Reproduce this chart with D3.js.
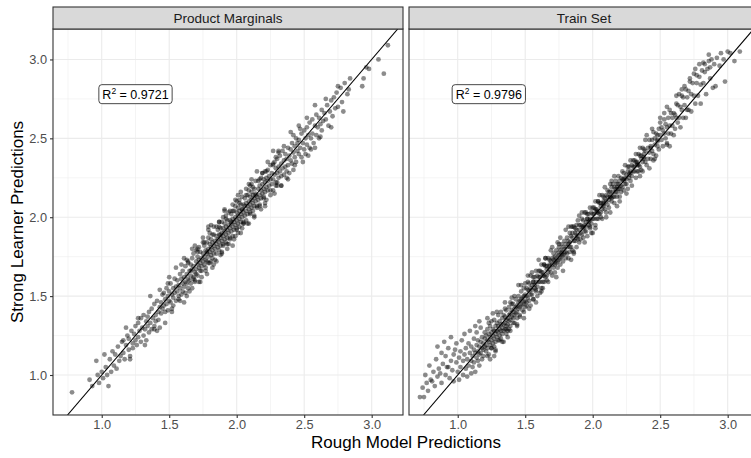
<!DOCTYPE html>
<html><head><meta charset="utf-8">
<script src="https://cdn.jsdelivr.net/npm/d3@7"></script>
<style>body{margin:0;background:#fff}svg{display:block}</style>
</head><body><svg id="chart" width="751" height="458"></svg>
<script>
const panelNames = ["Product Marginals", "Train Set"];
const r2Values = ["0.9721", "0.9796"];
const labelX = [1.25, 1.23];
const labelY = [2.78, 2.78];
const xTicks = [1.0, 1.5, 2.0, 2.5, 3.0];
const yTicks = [1.0, 1.5, 2.0, 2.5, 3.0];
const xMinor = [0.75, 1.25, 1.75, 2.25, 2.75];
const yMinor = [0.75, 1.25, 1.75, 2.25, 2.75];
const xDomain = [0.639, 3.232];
const yDomain = [0.7465, 3.193];
const xTitle = "Rough Model Predictions";
const yTitle = "Strong Learner Predictions";

const productMarginals = [
[0.78,0.89],[0.91,0.97],[0.93,0.93],
[0.96,1.09],[0.97,1.00],[0.98,0.95],[1.00,1.02],[1.01,0.98],[1.02,1.13],[1.03,1.05],[1.04,1.00],[1.05,0.93],
[1.06,1.10],[1.07,1.02],[1.08,1.15],[1.09,1.06],[1.10,1.13],[1.11,1.04],[1.12,1.18],[1.13,1.09],[1.14,1.12],[1.15,1.21],
[1.16,1.14],[1.16,1.22],[1.17,1.10],[1.18,1.19],[1.19,1.25],[1.20,1.16],[1.20,1.23],[1.21,1.12],[1.22,1.28],[1.23,1.20],[1.23,1.17],[1.24,1.26],[1.25,1.22],[1.25,1.31],
[1.26,1.19],[1.27,1.33],[1.27,1.24],[1.28,1.28],[1.29,1.21],[1.29,1.36],[1.30,1.30],[1.31,1.25],[1.31,1.38],[1.32,1.29],[1.33,1.34],[1.33,1.22],[1.34,1.31],[1.35,1.40],[1.35,1.27],[1.34,1.37],
[1.36,1.33],[1.37,1.29],[1.37,1.42],[1.38,1.36],[1.39,1.31],[1.39,1.45],[1.40,1.38],[1.40,1.34],[1.41,1.47],[1.42,1.40],[1.42,1.35],[1.43,1.43],[1.43,1.30],[1.44,1.46],[1.44,1.39],[1.45,1.51],[1.45,1.42],[1.41,1.28],
[1.46,1.44],[1.46,1.52],[1.47,1.40],[1.47,1.48],[1.48,1.55],[1.48,1.45],[1.49,1.50],[1.49,1.41],[1.50,1.53],[1.50,1.47],[1.51,1.58],[1.51,1.46],[1.52,1.51],[1.52,1.42],[1.53,1.55],[1.53,1.49],[1.54,1.61],[1.54,1.52],[1.55,1.47],[1.55,1.56],[1.50,1.62],[1.53,1.44],
[1.56,1.53],[1.56,1.60],[1.57,1.50],[1.57,1.57],[1.58,1.64],[1.58,1.55],[1.59,1.51],[1.59,1.61],[1.60,1.58],[1.60,1.66],[1.60,1.53],[1.61,1.62],[1.61,1.56],[1.62,1.69],[1.62,1.59],[1.62,1.52],[1.63,1.64],[1.63,1.58],[1.64,1.71],[1.64,1.61],[1.64,1.55],[1.65,1.66],[1.65,1.60],[1.58,1.47],[1.61,1.74],[1.63,1.50],
[1.66,1.63],[1.66,1.70],[1.66,1.58],[1.67,1.67],[1.67,1.74],[1.68,1.62],[1.68,1.69],[1.68,1.77],[1.69,1.65],[1.69,1.60],[1.70,1.72],[1.70,1.67],[1.70,1.79],[1.71,1.70],[1.71,1.63],[1.71,1.75],[1.72,1.68],[1.72,1.81],[1.72,1.73],[1.73,1.66],[1.73,1.71],[1.73,1.78],[1.74,1.74],[1.74,1.69],[1.74,1.62],[1.75,1.77],[1.75,1.72],[1.75,1.84],[1.69,1.82],[1.67,1.55],[1.72,1.59],[1.70,1.64],
[1.76,1.70],[1.76,1.75],[1.76,1.82],[1.77,1.73],[1.77,1.79],[1.77,1.68],[1.78,1.77],[1.78,1.84],[1.78,1.72],[1.79,1.80],[1.79,1.75],[1.79,1.87],[1.80,1.78],[1.80,1.83],[1.80,1.71],[1.80,1.90],[1.81,1.81],[1.81,1.76],[1.81,1.86],[1.82,1.79],[1.82,1.74],[1.82,1.84],[1.83,1.82],[1.83,1.89],[1.83,1.77],[1.84,1.85],[1.84,1.80],[1.84,1.73],[1.85,1.88],[1.85,1.83],[1.85,1.94],[1.78,1.64],[1.81,1.95],[1.83,1.70],[1.79,1.92],[1.82,1.68],
[1.86,1.81],[1.86,1.86],[1.86,1.92],[1.87,1.84],[1.87,1.89],[1.87,1.79],[1.88,1.87],[1.88,1.93],[1.88,1.82],[1.89,1.90],[1.89,1.85],[1.89,1.97],[1.90,1.88],[1.90,1.93],[1.90,1.83],[1.90,2.00],[1.91,1.91],[1.91,1.86],[1.91,1.96],[1.92,1.89],[1.92,1.94],[1.92,1.84],[1.93,1.92],[1.93,1.98],[1.93,1.87],[1.94,1.95],[1.94,1.90],[1.94,2.03],[1.95,1.93],[1.95,1.98],[1.95,1.86],[1.88,1.76],[1.91,2.04],[1.93,1.80],[1.87,1.97],[1.92,2.01],[1.89,1.78],[1.94,1.83],
[1.96,1.91],[1.96,1.97],[1.96,2.02],[1.97,1.94],[1.97,1.99],[1.97,1.88],[1.98,1.97],[1.98,2.04],[1.98,1.92],[1.99,2.00],[1.99,1.95],[1.99,2.07],[2.00,1.98],[2.00,2.03],[2.00,1.93],[2.00,2.10],[2.01,2.01],[2.01,1.96],[2.01,2.06],[2.02,1.99],[2.02,2.04],[2.02,1.94],[2.03,2.02],[2.03,2.08],[2.03,1.97],[2.04,2.05],[2.04,2.00],[2.04,2.13],[2.05,2.03],[2.05,2.08],[2.05,1.96],[1.98,1.86],[2.01,2.14],[2.03,1.90],[1.97,2.08],[2.02,2.11],[1.99,1.88],[2.04,1.93],
[2.06,2.01],[2.06,2.07],[2.06,2.12],[2.07,2.04],[2.07,2.09],[2.07,1.98],[2.08,2.07],[2.08,2.14],[2.08,2.02],[2.09,2.10],[2.09,2.05],[2.09,2.17],[2.10,2.08],[2.10,2.13],[2.10,2.03],[2.10,2.20],[2.11,2.11],[2.11,2.06],[2.11,2.16],[2.12,2.09],[2.12,2.14],[2.12,2.04],[2.13,2.12],[2.13,2.18],[2.13,2.07],[2.14,2.15],[2.14,2.10],[2.14,2.23],[2.15,2.13],[2.15,2.06],[2.08,1.96],[2.11,2.24],[2.13,2.00],[2.09,2.21],
[2.16,2.11],[2.16,2.18],[2.16,2.23],[2.17,2.14],[2.17,2.20],[2.17,2.08],[2.18,2.17],[2.18,2.25],[2.18,2.12],[2.19,2.21],[2.19,2.15],[2.19,2.28],[2.20,2.18],[2.20,2.24],[2.20,2.13],[2.21,2.22],[2.21,2.16],[2.21,2.29],[2.22,2.19],[2.22,2.25],[2.22,2.11],[2.23,2.23],[2.23,2.30],[2.23,2.17],[2.24,2.26],[2.24,2.20],[2.25,2.24],[2.25,2.33],[2.18,2.05],[2.21,2.09],
[2.26,2.21],[2.26,2.28],[2.27,2.24],[2.27,2.33],[2.27,2.17],[2.28,2.27],[2.28,2.35],[2.29,2.22],[2.29,2.31],[2.30,2.28],[2.30,2.37],[2.30,2.20],[2.31,2.32],[2.31,2.25],[2.32,2.29],[2.32,2.39],[2.33,2.34],[2.33,2.26],[2.34,2.31],[2.34,2.42],[2.35,2.36],[2.35,2.27],[2.28,2.15],[2.31,2.41],[2.33,2.20],[2.29,2.38],
[2.36,2.32],[2.36,2.40],[2.37,2.29],[2.37,2.37],[2.38,2.44],[2.38,2.33],[2.39,2.39],[2.39,2.28],[2.40,2.43],[2.40,2.36],[2.41,2.47],[2.41,2.34],[2.42,2.41],[2.42,2.30],[2.43,2.45],[2.43,2.38],[2.44,2.50],[2.44,2.35],[2.45,2.42],[2.45,2.47],[2.38,2.24],[2.42,2.52],
[2.46,2.40],[2.46,2.49],[2.47,2.44],[2.48,2.53],[2.48,2.38],[2.49,2.47],[2.50,2.55],[2.50,2.43],[2.51,2.50],[2.51,2.40],[2.52,2.57],[2.52,2.46],[2.53,2.52],[2.54,2.44],[2.54,2.60],[2.55,2.50],[2.47,2.56],[2.53,2.39],
[2.56,2.53],[2.56,2.62],[2.57,2.47],[2.58,2.58],[2.59,2.52],[2.59,2.65],[2.60,2.57],[2.61,2.50],[2.61,2.63],[2.62,2.59],[2.63,2.68],[2.63,2.55],[2.64,2.61],[2.65,2.66],[2.58,2.44],
[2.66,2.62],[2.67,2.71],[2.68,2.58],[2.69,2.67],[2.70,2.74],[2.71,2.64],[2.72,2.76],[2.73,2.69],[2.74,2.79],[2.75,2.70],
[2.77,2.82],[2.78,2.73],[2.80,2.85],[2.82,2.78],[2.84,2.88],[2.83,2.81],
[2.93,2.83],[2.94,2.88],[2.98,2.94],[3.05,3.00],[3.09,2.91],[3.12,3.09],[2.96,2.95],
[1.18,1.30],[1.21,1.10],[1.27,1.36],[1.32,1.19],[1.36,1.50],[1.39,1.29],[1.43,1.54],[1.47,1.33],[1.49,1.58],[1.52,1.40],
[1.55,1.68],[1.57,1.48],[1.59,1.70],[1.61,1.46],[1.63,1.73],[1.65,1.53],[1.67,1.80],[1.69,1.59],[1.71,1.80],[1.73,1.59],
[1.75,1.87],[1.77,1.66],[1.79,1.94],[1.81,1.72],[1.83,1.94],[1.85,1.72],[1.87,1.97],[1.89,1.77],[1.91,2.05],[1.93,1.83],
[1.95,2.04],[1.97,1.82],[1.99,2.11],[2.01,1.90],[2.03,2.16],[2.05,1.96],[2.07,2.18],[2.09,1.96],[2.11,2.21],[2.13,2.01],
[2.15,2.29],[2.17,2.07],[2.19,2.28],[2.21,2.07],[2.23,2.35],[2.25,2.14],[2.27,2.42],[2.29,2.20],[2.31,2.42],[2.33,2.20],
[2.35,2.45],[2.37,2.25],[2.40,2.54],[2.43,2.33],[2.46,2.58],[2.49,2.35],[2.52,2.63],[2.55,2.43],[2.58,2.71],[2.62,2.51],
[2.66,2.75],[2.70,2.57],[2.75,2.83],[2.79,2.67],
[1.64,1.72],[1.68,1.61],[1.71,1.78],[1.74,1.66],[1.76,1.84],[1.79,1.71],[1.82,1.89],[1.85,1.77],[1.87,1.94],[1.90,1.82],
[1.92,1.99],[1.95,1.87],[1.97,2.04],[2.00,1.92],[2.02,2.09],[2.05,1.97],[2.07,2.14],[2.10,2.02],[2.12,2.19],[2.15,2.07],
[2.17,2.24],[2.20,2.12],[2.22,2.29],[2.25,2.17],[2.27,2.34],[2.30,2.22],[1.66,1.66],[1.78,1.78],[1.88,1.89],[1.96,1.96],[2.04,2.05],[2.14,2.14]
];

const trainSet = [
[0.72,0.86],[0.74,0.92],[0.75,0.86],[0.76,1.00],[0.77,0.95],[0.78,0.90],[0.79,1.06],[0.80,0.97],
[0.81,0.96],[0.82,1.02],[0.83,0.93],[0.84,1.10],[0.85,0.99],[0.85,1.18],[0.86,1.04],[0.87,1.01],[0.88,0.95],[0.88,1.14],[0.89,1.07],[0.90,1.21],
[0.91,1.00],[0.91,1.12],[0.92,1.05],[0.93,1.05],[0.93,1.17],[0.94,0.98],[0.95,1.09],[0.95,1.24],[0.96,1.03],[0.97,1.13],[0.97,0.96],[0.98,1.16],[0.99,1.08],[0.99,1.20],[1.00,1.02],
[1.01,1.11],[1.01,0.97],[1.02,1.15],[1.02,1.05],[1.03,1.22],[1.04,1.09],[1.04,1.00],[1.05,1.13],[1.05,1.26],[1.06,1.04],[1.06,1.17],[1.07,0.99],[1.07,1.10],[1.08,1.20],[1.08,1.06],[1.09,1.14],[1.09,1.28],[1.10,1.01],[1.10,1.09],[1.10,1.18],
[1.11,1.12],[1.11,1.05],[1.12,1.16],[1.12,1.23],[1.12,1.08],[1.13,1.14],[1.13,1.02],[1.14,1.19],[1.14,1.11],[1.14,1.27],[1.15,1.15],[1.15,1.09],[1.15,1.22],[1.16,1.13],[1.16,1.18],[1.16,1.06],[1.17,1.21],[1.17,1.14],[1.17,1.30],[1.18,1.17],[1.18,1.10],[1.18,1.24],[1.19,1.16],[1.19,1.20],[1.19,1.12],[1.20,1.23],[1.20,1.18],[1.20,1.27],[1.13,1.31],[1.16,1.34],
[1.21,1.19],[1.21,1.25],[1.21,1.15],[1.22,1.22],[1.22,1.29],[1.22,1.17],[1.23,1.21],[1.23,1.26],[1.23,1.13],[1.24,1.24],[1.24,1.19],[1.24,1.31],[1.25,1.22],[1.25,1.27],[1.25,1.17],[1.25,1.34],[1.26,1.25],[1.26,1.20],[1.26,1.29],[1.27,1.23],[1.27,1.28],[1.27,1.18],[1.27,1.35],[1.28,1.26],[1.28,1.31],[1.28,1.21],[1.29,1.28],[1.29,1.24],[1.29,1.33],[1.30,1.27],[1.30,1.31],[1.30,1.22],[1.30,1.38],[1.22,1.36],[1.24,1.10],[1.26,1.39],[1.28,1.15],[1.23,1.33],[1.27,1.12],[1.29,1.40],
[1.31,1.29],[1.31,1.25],[1.31,1.34],[1.32,1.28],[1.32,1.32],[1.32,1.23],[1.33,1.30],[1.33,1.36],[1.33,1.26],[1.34,1.32],[1.34,1.28],[1.34,1.38],[1.35,1.33],[1.35,1.29],[1.35,1.37],[1.36,1.35],[1.36,1.31],[1.36,1.41],[1.37,1.36],[1.37,1.32],[1.37,1.28],[1.38,1.38],[1.38,1.34],[1.38,1.43],[1.39,1.39],[1.39,1.35],[1.39,1.31],[1.40,1.41],[1.40,1.37],[1.40,1.45],[1.33,1.21],[1.35,1.42],[1.37,1.24],[1.39,1.46],[1.36,1.26],[1.38,1.29],
[1.41,1.40],[1.41,1.36],[1.41,1.45],[1.42,1.42],[1.42,1.38],[1.42,1.33],[1.43,1.43],[1.43,1.39],[1.43,1.48],[1.44,1.44],[1.44,1.40],[1.44,1.36],[1.45,1.46],[1.45,1.42],[1.45,1.50],[1.46,1.47],[1.46,1.43],[1.46,1.38],[1.47,1.48],[1.47,1.44],[1.47,1.53],[1.48,1.49],[1.48,1.45],[1.48,1.41],[1.49,1.50],[1.49,1.46],[1.49,1.55],[1.50,1.51],[1.50,1.47],[1.50,1.43],[1.42,1.50],[1.44,1.31],[1.47,1.57],[1.49,1.40],
[1.51,1.50],[1.51,1.55],[1.51,1.46],[1.52,1.54],[1.52,1.59],[1.52,1.49],[1.53,1.53],[1.53,1.47],[1.53,1.58],[1.54,1.55],[1.54,1.51],[1.54,1.63],[1.55,1.51],[1.55,1.57],[1.55,1.54],[1.56,1.62],[1.56,1.48],[1.56,1.59],[1.57,1.57],[1.57,1.62],[1.57,1.55],[1.58,1.53],[1.58,1.66],[1.58,1.59],[1.59,1.56],[1.59,1.63],[1.59,1.50],[1.60,1.62],[1.60,1.66],[1.60,1.59],[1.52,1.63],[1.54,1.44],[1.56,1.59],[1.58,1.54],
[1.61,1.66],[1.61,1.59],[1.61,1.62],[1.62,1.55],[1.62,1.65],[1.62,1.70],[1.63,1.59],[1.63,1.63],[1.63,1.65],[1.64,1.59],[1.64,1.70],[1.64,1.63],[1.65,1.69],[1.65,1.62],[1.65,1.74],[1.66,1.60],[1.66,1.67],[1.66,1.69],[1.67,1.65],[1.67,1.74],[1.67,1.59],[1.68,1.70],[1.68,1.67],[1.68,1.73],[1.69,1.65],[1.69,1.72],[1.69,1.79],[1.70,1.63],[1.70,1.70],[1.70,1.74],[1.62,1.53],[1.64,1.70],[1.66,1.63],[1.68,1.69],
[1.71,1.73],[1.71,1.68],[1.71,1.77],[1.72,1.70],[1.72,1.75],[1.72,1.65],[1.73,1.74],[1.73,1.71],[1.73,1.79],[1.74,1.72],[1.74,1.77],[1.74,1.68],[1.75,1.76],[1.75,1.73],[1.75,1.81],[1.76,1.74],[1.76,1.79],[1.76,1.70],[1.77,1.78],[1.77,1.75],[1.77,1.83],[1.78,1.76],[1.78,1.81],[1.78,1.72],[1.79,1.80],[1.79,1.77],[1.79,1.85],[1.80,1.78],[1.80,1.83],[1.80,1.74],[1.73,1.62],[1.76,1.87],[1.78,1.66],[1.74,1.84],
[1.81,1.81],[1.81,1.87],[1.81,1.77],[1.82,1.85],[1.82,1.74],[1.82,1.83],[1.83,1.90],[1.83,1.81],[1.83,1.78],[1.84,1.88],[1.84,1.94],[1.84,1.81],[1.85,1.87],[1.85,1.79],[1.85,1.90],[1.86,1.85],[1.86,1.94],[1.86,1.77],[1.87,1.90],[1.87,1.85],[1.87,1.93],[1.88,1.89],[1.88,1.81],[1.88,1.92],[1.89,1.86],[1.89,1.98],[1.89,1.88],[1.90,1.95],[1.90,1.84],[1.90,1.92],[1.82,1.94],[1.84,1.73],[1.86,1.78],[1.88,1.95],
[1.91,1.90],[1.91,1.95],[1.91,1.86],[1.92,1.94],[1.92,1.99],[1.92,1.89],[1.93,1.93],[1.93,1.87],[1.93,1.98],[1.94,1.95],[1.94,1.91],[1.94,2.03],[1.95,1.91],[1.95,1.97],[1.95,1.94],[1.96,2.02],[1.96,1.88],[1.96,1.99],[1.97,1.97],[1.97,2.02],[1.97,1.95],[1.98,1.93],[1.98,2.06],[1.98,1.99],[1.99,1.96],[1.99,2.03],[1.99,1.90],[2.00,2.02],[2.00,2.06],[2.00,1.99],[1.92,2.03],[1.94,1.84],[1.96,1.99],[1.98,1.94],
[2.01,2.06],[2.01,1.99],[2.01,2.02],[2.02,1.95],[2.02,2.05],[2.02,2.10],[2.03,1.99],[2.03,2.03],[2.03,2.05],[2.04,1.99],[2.04,2.10],[2.04,2.03],[2.05,2.09],[2.05,2.02],[2.05,2.14],[2.06,2.00],[2.06,2.07],[2.06,2.09],[2.07,2.05],[2.07,2.14],[2.07,1.99],[2.08,2.10],[2.08,2.07],[2.08,2.13],[2.09,2.05],[2.09,2.12],[2.09,2.19],[2.10,2.03],[2.10,2.10],[2.10,2.14],[2.02,1.93],[2.04,2.10],[2.06,2.03],[2.08,2.09],
[2.11,2.13],[2.11,2.08],[2.11,2.17],[2.12,2.11],[2.12,2.16],[2.12,2.06],[2.13,2.16],[2.13,2.13],[2.13,2.21],[2.14,2.12],[2.14,2.19],[2.14,2.10],[2.15,2.16],[2.15,2.13],[2.15,2.21],[2.16,2.13],[2.16,2.19],[2.16,2.09],[2.17,2.18],[2.17,2.16],[2.17,2.23],[2.18,2.16],[2.18,2.21],[2.18,2.13],[2.19,2.21],[2.19,2.18],[2.19,2.26],[2.20,2.18],[2.20,2.23],[2.20,2.13],[2.13,2.03],[2.16,2.26],[2.18,2.07],[2.14,2.23],
[2.21,2.20],[2.21,2.25],[2.21,2.16],[2.22,2.24],[2.22,2.29],[2.22,2.19],[2.23,2.23],[2.23,2.17],[2.23,2.28],[2.24,2.25],[2.24,2.21],[2.24,2.33],[2.25,2.21],[2.25,2.27],[2.25,2.24],[2.26,2.32],[2.26,2.18],[2.26,2.29],[2.27,2.27],[2.27,2.32],[2.27,2.25],[2.28,2.23],[2.28,2.36],[2.28,2.29],[2.29,2.26],[2.29,2.33],[2.29,2.20],[2.30,2.32],[2.30,2.36],[2.30,2.29],
[2.31,2.36],[2.31,2.29],[2.31,2.32],[2.32,2.25],[2.32,2.35],[2.32,2.40],[2.33,2.29],[2.33,2.33],[2.33,2.35],[2.34,2.29],[2.34,2.40],[2.34,2.33],[2.35,2.39],[2.35,2.32],[2.35,2.44],[2.36,2.30],[2.36,2.37],[2.36,2.39],[2.37,2.35],[2.37,2.44],[2.37,2.29],[2.38,2.40],[2.38,2.37],[2.38,2.43],[2.39,2.35],[2.39,2.42],[2.39,2.49],[2.40,2.33],
[2.41,2.44],[2.41,2.37],[2.42,2.49],[2.42,2.41],[2.43,2.37],[2.43,2.45],[2.44,2.49],[2.44,2.42],[2.45,2.54],[2.45,2.40],[2.46,2.46],[2.46,2.50],[2.47,2.39],[2.47,2.53],[2.48,2.49],[2.48,2.45],[2.49,2.56],[2.49,2.43],[2.50,2.52],[2.50,2.60],[2.42,2.31],[2.44,2.56],[2.46,2.37],[2.48,2.52],
[2.51,2.49],[2.51,2.57],[2.52,2.55],[2.52,2.45],[2.53,2.62],[2.53,2.53],[2.54,2.50],[2.54,2.59],[2.55,2.57],[2.55,2.46],[2.56,2.63],[2.56,2.53],[2.57,2.68],[2.57,2.58],[2.58,2.53],[2.58,2.66],[2.59,2.58],[2.59,2.63],[2.60,2.52],[2.60,2.66],[2.53,2.66],[2.57,2.45],
[2.61,2.65],[2.61,2.56],[2.62,2.72],[2.62,2.63],[2.63,2.60],[2.63,2.71],[2.64,2.78],[2.64,2.63],[2.65,2.70],[2.65,2.57],[2.66,2.77],[2.66,2.68],[2.67,2.63],[2.67,2.76],[2.68,2.83],[2.68,2.71],[2.69,2.63],[2.69,2.81],[2.70,2.76],[2.70,2.68],
[2.71,2.80],[2.71,2.68],[2.72,2.86],[2.73,2.78],[2.73,2.67],[2.74,2.85],[2.75,2.77],[2.75,2.91],[2.76,2.72],[2.77,2.85],[2.77,2.90],[2.78,2.77],[2.79,2.89],[2.79,2.97],[2.80,2.84],[2.80,2.72],
[2.81,2.93],[2.82,2.85],[2.83,2.92],[2.83,2.97],[2.84,2.78],[2.85,2.94],[2.86,2.99],[2.87,2.88],[2.87,2.95],[2.88,3.00],[2.89,2.82],[2.90,2.97],
[2.91,2.83],[2.92,3.01],[2.94,2.96],[2.95,3.04],[2.97,3.00],[2.98,2.86],[3.00,3.05],[3.02,3.04],[3.05,2.99],[3.09,3.05],
[1.22,1.12],[1.25,1.17],[1.28,1.16],[1.31,1.22],[1.34,1.21],[1.36,1.29],[1.39,1.28],[1.41,1.33],[1.44,1.32],[1.46,1.37],
[1.49,1.36],[1.51,1.44],[1.53,1.42],[1.56,1.48],[1.58,1.46],[1.61,1.52],[1.63,1.55],
[1.32,1.40],[1.35,1.46],[1.40,1.49],[1.45,1.57],[1.50,1.58],[1.55,1.65],[1.60,1.73],[1.65,1.74],[1.70,1.81],[1.75,1.83],
[1.80,1.92],[1.85,1.94],[1.90,2.01],[1.95,2.03],
[1.72,1.72],[1.77,1.77],[1.83,1.84],[1.88,1.87],[1.93,1.94],[1.98,1.98],[2.03,2.04],[2.08,2.08],[2.13,2.13],[2.18,2.19],
[2.23,2.24],[2.28,2.28],[2.33,2.34],[2.38,2.38],[2.43,2.44],[2.48,2.48],
[2.00,1.90],[2.10,2.00],[2.20,2.10],[2.25,2.15],[2.35,2.26],[2.45,2.36],[2.55,2.47],
[2.40,2.52],[2.50,2.63],[2.55,2.70],[2.62,2.77],[2.66,2.81],[2.72,2.88],[2.76,2.94],[2.82,2.98],[2.86,3.03]
];

const panelData = [productMarginals, trainSet];

const FONT = "'Liberation Sans', Arial, Helvetica, sans-serif";
const svg = d3.select("#chart");
svg.append("rect").attr("width", 751).attr("height", 458).attr("fill", "#fff");

const panelLeft = 53, panelW = 350, gap = 6, panelTop = 29, panelBottom = 415, stripTop = 7;

panelNames.forEach((name, i) => {
  const x0 = panelLeft + i * (panelW + gap);
  const x = d3.scaleLinear().domain(xDomain).range([x0, x0 + panelW]);
  const y = d3.scaleLinear().domain(yDomain).range([panelBottom, panelTop]);
  const g = svg.append("g");
  const clipId = "clip" + i;
  svg.append("clipPath").attr("id", clipId).append("rect")
    .attr("x", x0).attr("y", panelTop).attr("width", panelW).attr("height", panelBottom - panelTop);

  const grid = g.append("g").attr("clip-path", `url(#${clipId})`);
  grid.selectAll(".vminor").data(xMinor).join("line")
    .attr("x1", d => x(d)).attr("x2", d => x(d)).attr("y1", panelTop).attr("y2", panelBottom)
    .attr("stroke", "#ebebeb").attr("stroke-width", 0.55);
  grid.selectAll(".hminor").data(yMinor).join("line")
    .attr("y1", d => y(d)).attr("y2", d => y(d)).attr("x1", x0).attr("x2", x0 + panelW)
    .attr("stroke", "#ebebeb").attr("stroke-width", 0.55);
  grid.selectAll(".vmajor").data(xTicks).join("line")
    .attr("x1", d => x(d)).attr("x2", d => x(d)).attr("y1", panelTop).attr("y2", panelBottom)
    .attr("stroke", "#ebebeb").attr("stroke-width", 1.1);
  grid.selectAll(".hmajor").data(yTicks).join("line")
    .attr("y1", d => y(d)).attr("y2", d => y(d)).attr("x1", x0).attr("x2", x0 + panelW)
    .attr("stroke", "#ebebeb").attr("stroke-width", 1.1);

  const pts = g.append("g").attr("clip-path", `url(#${clipId})`);
  pts.selectAll("circle").data(panelData[i]).join("circle")
    .attr("cx", d => x(d[0])).attr("cy", d => y(d[1])).attr("r", 2.4)
    .attr("fill", "#000").attr("fill-opacity", 0.45);

  pts.append("line")
    .attr("x1", x(yDomain[0])).attr("y1", y(yDomain[0]))
    .attr("x2", x(yDomain[1])).attr("y2", y(yDomain[1]))
    .attr("stroke", "#000").attr("stroke-width", 1.1);

  const lab = g.append("g");
  const txt = lab.append("text")
    .attr("x", x(labelX[i])).attr("y", y(labelY[i]) + 4.5)
    .attr("text-anchor", "middle")
    .style("font-family", FONT).style("font-size", "12.5px").attr("fill", "#000");
  txt.append("tspan").text("R");
  txt.append("tspan").text("2").attr("dy", -5).style("font-size", "8.5px");
  txt.append("tspan").text(" = " + r2Values[i]).attr("dy", 5);
  const bb = txt.node().getBBox();
  lab.insert("rect", "text")
    .attr("x", bb.x - 3.5).attr("y", y(labelY[i]) - 9.5)
    .attr("width", bb.width + 7).attr("height", 19)
    .attr("rx", 3).attr("ry", 3)
    .attr("fill", "#fff").attr("stroke", "#333").attr("stroke-width", 0.9);

  g.append("rect").attr("x", x0).attr("y", panelTop).attr("width", panelW).attr("height", panelBottom - panelTop)
    .attr("fill", "none").attr("stroke", "#333").attr("stroke-width", 1.1);

  g.append("rect").attr("x", x0).attr("y", stripTop).attr("width", panelW).attr("height", panelTop - stripTop)
    .attr("fill", "#d9d9d9").attr("stroke", "#333").attr("stroke-width", 1.1);
  g.append("text").attr("x", x0 + panelW / 2).attr("y", (stripTop + panelTop) / 2 + 4.8)
    .attr("text-anchor", "middle").style("font-family", FONT).style("font-size", "13.5px")
    .attr("fill", "#1a1a1a").text(name);

  const xa = g.append("g").attr("transform", `translate(0,${panelBottom})`)
    .call(d3.axisBottom(x).tickValues(xTicks).tickFormat(d3.format(".1f")).tickSize(3).tickPadding(2));
  xa.select(".domain").remove();
  xa.selectAll("line").attr("stroke", "#333").attr("stroke-width", 1.1);
  xa.selectAll("text").style("font-family", FONT).style("font-size", "12.8px").attr("fill", "#4d4d4d");

  if (i === 0) {
    const ya = g.append("g").attr("transform", `translate(${x0},0)`)
      .call(d3.axisLeft(y).tickValues(yTicks).tickFormat(d3.format(".1f")).tickSize(3).tickPadding(3));
    ya.select(".domain").remove();
    ya.selectAll("line").attr("stroke", "#333").attr("stroke-width", 1.1);
    ya.selectAll("text").style("font-family", FONT).style("font-size", "12.8px").attr("fill", "#4d4d4d");
  }
});

svg.append("text").attr("x", panelLeft + (2 * panelW + gap) / 2).attr("y", 448)
  .attr("text-anchor", "middle").style("font-family", FONT).style("font-size", "17px")
  .attr("fill", "#000").text(xTitle);
svg.append("text").attr("transform", `translate(23,${(panelTop + panelBottom) / 2}) rotate(-90)`)
  .attr("text-anchor", "middle").style("font-family", FONT).style("font-size", "17px")
  .attr("fill", "#000").text(yTitle);
</script></body></html>
